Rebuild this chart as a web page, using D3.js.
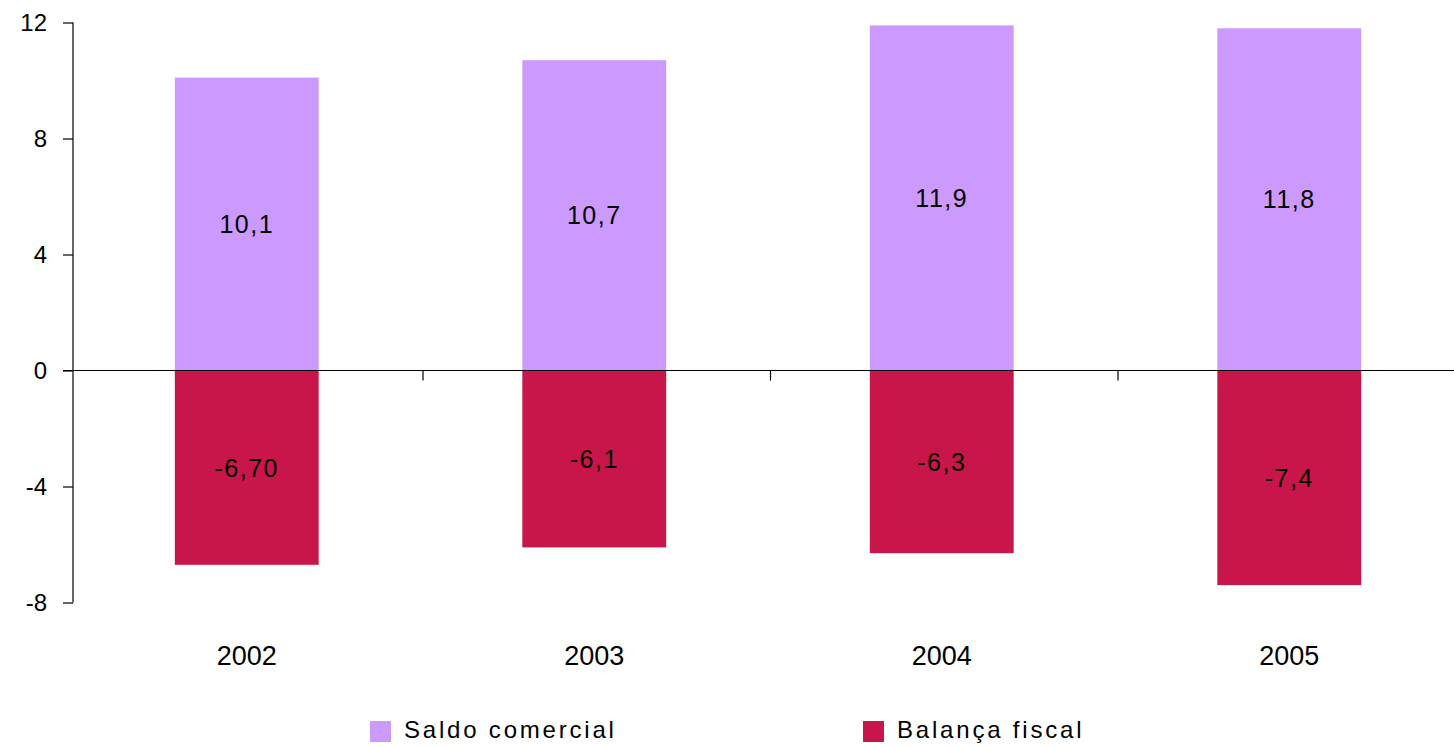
<!DOCTYPE html>
<html>
<head>
<meta charset="utf-8">
<script src="https://cdn.jsdelivr.net/npm/d3@7"></script>
<style>
  html, body { margin: 0; padding: 0; background: #fff; }
  svg { display: block; font-family: "Liberation Sans", Arial, sans-serif; }
</style>
</head>
<body>
<svg id="chart" width="1454" height="746"></svg>
<script>
// Chart data
const years = ["2002", "2003", "2004", "2005"];
const saldoComercial = [10.1, 10.7, 11.9, 11.8];
const balancaFiscal = [-6.70, -6.1, -6.3, -7.4];
const saldoLabels = ["10,1", "10,7", "11,9", "11,8"];
const fiscalLabels = ["-6,70", "-6,1", "-6,3", "-7,4"];
const yTicks = [-8, -4, 0, 4, 8, 12];
const seriesNames = ["Saldo comercial", "Balança fiscal"];
const seriesColors = ["#CC99FF", "#C8164A"];

const svg = d3.select("#chart");

const x = d3.scaleBand().domain(years).range([74, 1464]).paddingInner(0).paddingOuter(0);
const y = d3.scaleLinear().domain([-8, 12]).range([602.5, 22.5]);
const barWidth = x.bandwidth() * 0.414;
const barX = d => x(d) + (x.bandwidth() - barWidth) / 2 - 1;

// Bars: positive series above zero, negative series below
const series = [saldoComercial, balancaFiscal];
const labels = [saldoLabels, fiscalLabels];
series.forEach((vals, s) => {
  svg.append("g").selectAll("rect")
    .data(vals)
    .join("rect")
    .attr("x", (d, i) => barX(years[i]))
    .attr("width", barWidth)
    .attr("y", d => Math.min(y(d), y(0)))
    .attr("height", d => Math.abs(y(d) - y(0)))
    .attr("fill", seriesColors[s]);
});

// Value labels centred in each bar
series.forEach((vals, s) => {
  svg.append("g").selectAll("text")
    .data(vals)
    .join("text")
    .attr("x", (d, i) => barX(years[i]) + barWidth / 2)
    .attr("y", d => (y(d) + y(0)) / 2)
    .attr("dy", "0.36em")
    .attr("text-anchor", "middle")
    .attr("font-size", 25)
    .attr("letter-spacing", 1.5)
    .attr("fill", "#000")
    .text((d, i) => labels[s][i]);
});

// Y axis (plain hyphen for negative numbers)
const yAxis = d3.axisLeft(y).tickValues(yTicks).tickSize(10).tickPadding(16).tickFormat(d => String(d));
const gy = svg.append("g").attr("transform", "translate(73,0)").call(yAxis);
gy.select(".domain").attr("d", `M0,${y(12)}V${y(-8)}`).attr("stroke", "#000").attr("stroke-width", 1.2);
gy.selectAll(".tick line").attr("stroke", "#000").attr("stroke-width", 1.2);
gy.selectAll(".tick text").attr("font-size", 24).attr("fill", "#000")
  .attr("font-family", "'Liberation Sans', Arial, sans-serif");

// Category axis drawn along zero
const xAxis = d3.axisBottom(x).tickSize(0).tickFormat("");
const gx = svg.append("g").attr("transform", `translate(0,${y(0)})`).call(xAxis);
gx.select(".domain").attr("d", "M63,0H1464").attr("stroke", "#000").attr("stroke-width", 1.2);
// Tick marks on category boundaries
gx.selectAll("line.sep")
  .data(years.slice(1))
  .join("line")
  .attr("class", "sep")
  .attr("x1", d => x(d) + 1.5).attr("x2", d => x(d) + 1.5)
  .attr("y1", 0).attr("y2", 10)
  .attr("stroke", "#000").attr("stroke-width", 1.2);

// Year labels below the plot
svg.append("g").selectAll("text")
  .data(years)
  .join("text")
  .attr("x", d => barX(d) + barWidth / 2)
  .attr("y", 665)
  .attr("text-anchor", "middle")
  .attr("font-size", 27)
  .attr("fill", "#000")
  .text(d => d);

// Legend
const legendX = [370, 863];
const lg = svg.append("g").selectAll("g")
  .data(seriesNames)
  .join("g")
  .attr("transform", (d, i) => `translate(${legendX[i]},721)`);
lg.append("rect").attr("width", 21).attr("height", 21).attr("fill", (d, i) => seriesColors[i]);
lg.append("text")
  .attr("x", 34).attr("y", 17)
  .attr("font-size", 24)
  .attr("letter-spacing", 2.8)
  .attr("fill", "#000")
  .text(d => d);
</script>
</body>
</html>
